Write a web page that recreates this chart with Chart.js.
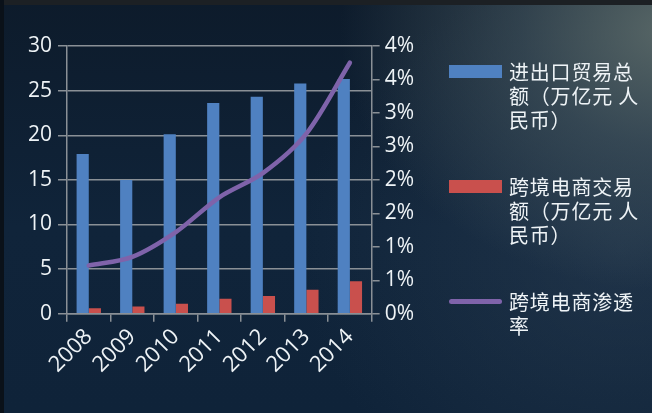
<!DOCTYPE html>
<html>
<head>
<meta charset="utf-8">
<script src="https://cdn.jsdelivr.net/npm/chart.js@4/dist/chart.umd.min.js"></script>
<style>
  html, body { margin: 0; padding: 0; }
  body { width: 652px; height: 413px; overflow: hidden; position: relative;
    background:
      radial-gradient(ellipse 330px 260px at 670px 30px, rgba(95,110,108,0.9), rgba(72,90,98,0.6) 45%, rgba(30,50,70,0) 100%),
      radial-gradient(ellipse 320px 280px at 620px 250px, rgba(55,75,95,0.4), rgba(30,50,70,0) 100%),
      linear-gradient(180deg, #0d1b2b 0%, #10243a 55%, #0f2339 100%);
  }
  #topband { position: absolute; left: 0; top: 0; width: 652px; height: 5px; background: #1c2024; }
  #leftband { position: absolute; left: 0; top: 0; width: 4px; height: 413px; background: #0a1119; }
  #wrap { position: absolute; left: 0; top: 0; width: 652px; height: 413px; }
  #legend { position: absolute; left: 449px; top: 60px; width: 200px; color: #eef3f6;
    font-family: "Noto Sans CJK SC", "Open Sans", sans-serif; font-size: 20px; line-height: 24px; }
  .item { position: absolute; left: 0; display: flex; }
  .sw { width: 53px; flex: none; margin-right: 7px; }
  .txt { width: 135px; letter-spacing: 0.8px; }
</style>
</head>
<body>
<div id="topband"></div><div id="leftband"></div>
<div id="wrap"><canvas id="c" width="652" height="413"></canvas></div>
<div id="legend"></div>
<script>
const categories = ["2008", "2009", "2010", "2011", "2012", "2013", "2014"];
const tradeTotal = [17.9, 15.0, 20.1, 23.6, 24.3, 25.8, 26.3];
const crossBorder = [0.63, 0.82, 1.11, 1.68, 2.0, 2.7, 3.65];
const penetration = [0.72, 0.85, 1.22, 1.74, 2.10, 2.69, 3.75];
const seriesNames = ["进出口贸易总额（万亿元 人民币）", "跨境电商交易额（万亿元 人民币）", "跨境电商渗透率"];
const legendLines = [["进出口贸易总", "额（万亿元 人", "民币）"], ["跨境电商交易", "额（万亿元 人", "民币）"], ["跨境电商渗透", "率"]];
const leftTicks = [0, 5, 10, 15, 20, 25, 30];
const rightTicks = [0, 0.5, 1, 1.5, 2, 2.5, 3, 3.5, 4];

const txtColor = "#eef3f6";
const gridColor = "#8a9096";
const font = { family: "'Open Sans', 'Noto Sans CJK SC', sans-serif", size: 21 };
const xFont = { family: "'Open Sans', 'Noto Sans CJK SC', sans-serif", size: 22 };

const chart = new Chart(document.getElementById("c"), {
  type: "bar",
  data: {
    labels: categories,
    datasets: [
      { label: seriesNames[0], data: tradeTotal, backgroundColor: "#4f81c1", yAxisID: "y", order: 2,
        barPercentage: 1, categoryPercentage: 0.56 },
      { label: seriesNames[1], data: crossBorder, backgroundColor: "#c9504d", yAxisID: "y", order: 2,
        barPercentage: 1, categoryPercentage: 0.56 },
      { type: "line", label: seriesNames[2], data: penetration, borderColor: "#7f63aa", backgroundColor: "#7f63aa",
        borderWidth: 4.5, pointRadius: 0, tension: 0.3, yAxisID: "y1", order: 1,
        borderCapStyle: "round" }
    ]
  },
  options: {
    responsive: false,
    animation: false,
    devicePixelRatio: 1,
    layout: { padding: { left: 22, top: 46, right: 233, bottom: 33 } },
    plugins: { legend: { display: false }, tooltip: { enabled: false } },
    scales: {
      x: {
        offset: true,
        grid: { offset: true, drawOnChartArea: false, drawTicks: true, tickLength: 8, color: gridColor, lineWidth: 1.5 },
        border: { color: gridColor, width: 1.5 },
        ticks: { color: txtColor, font: xFont, maxRotation: 45, minRotation: 45, padding: 2 }
      },
      y: {
        position: "left", min: 0, max: 30,
        afterBuildTicks: (s) => { s.ticks = leftTicks.map(v => ({ value: v })); },
        grid: { color: gridColor, lineWidth: 1.5, tickLength: 9 },
        border: { color: gridColor, width: 1.5 },
        ticks: { color: txtColor, font: font, padding: 6 }
      },
      y1: {
        position: "right", min: 0, max: 4,
        afterBuildTicks: (s) => { s.ticks = rightTicks.map(v => ({ value: v })); },
        grid: { drawOnChartArea: false, color: gridColor, lineWidth: 1.5, tickLength: 8 },
        border: { color: gridColor, width: 1.5 },
        ticks: { color: txtColor, font: font, padding: 5, callback: (v) => Math.round(v + 0.001) + "%" }
      }
    }
  }
});

// HTML legend built from the chart's datasets
const lg = document.getElementById("legend");
const tops = [0, 115, 230];
chart.data.datasets.forEach((ds, i) => {
  const it = document.createElement("div");
  it.className = "item";
  it.style.top = tops[i] + "px";
  const sw = document.createElement("div");
  sw.className = "sw";
  if (ds.type === "line") {
    sw.style.height = "5px"; sw.style.marginTop = "9px"; sw.style.borderRadius = "3px";
    sw.style.background = ds.borderColor;
  } else {
    sw.style.height = "13px"; sw.style.marginTop = "5px"; sw.style.background = ds.backgroundColor;
  }
  const t = document.createElement("div");
  t.className = "txt";
  t.innerHTML = legendLines[i].join("<br>");
  it.appendChild(sw); it.appendChild(t);
  lg.appendChild(it);
});
</script>
</body>
</html>
